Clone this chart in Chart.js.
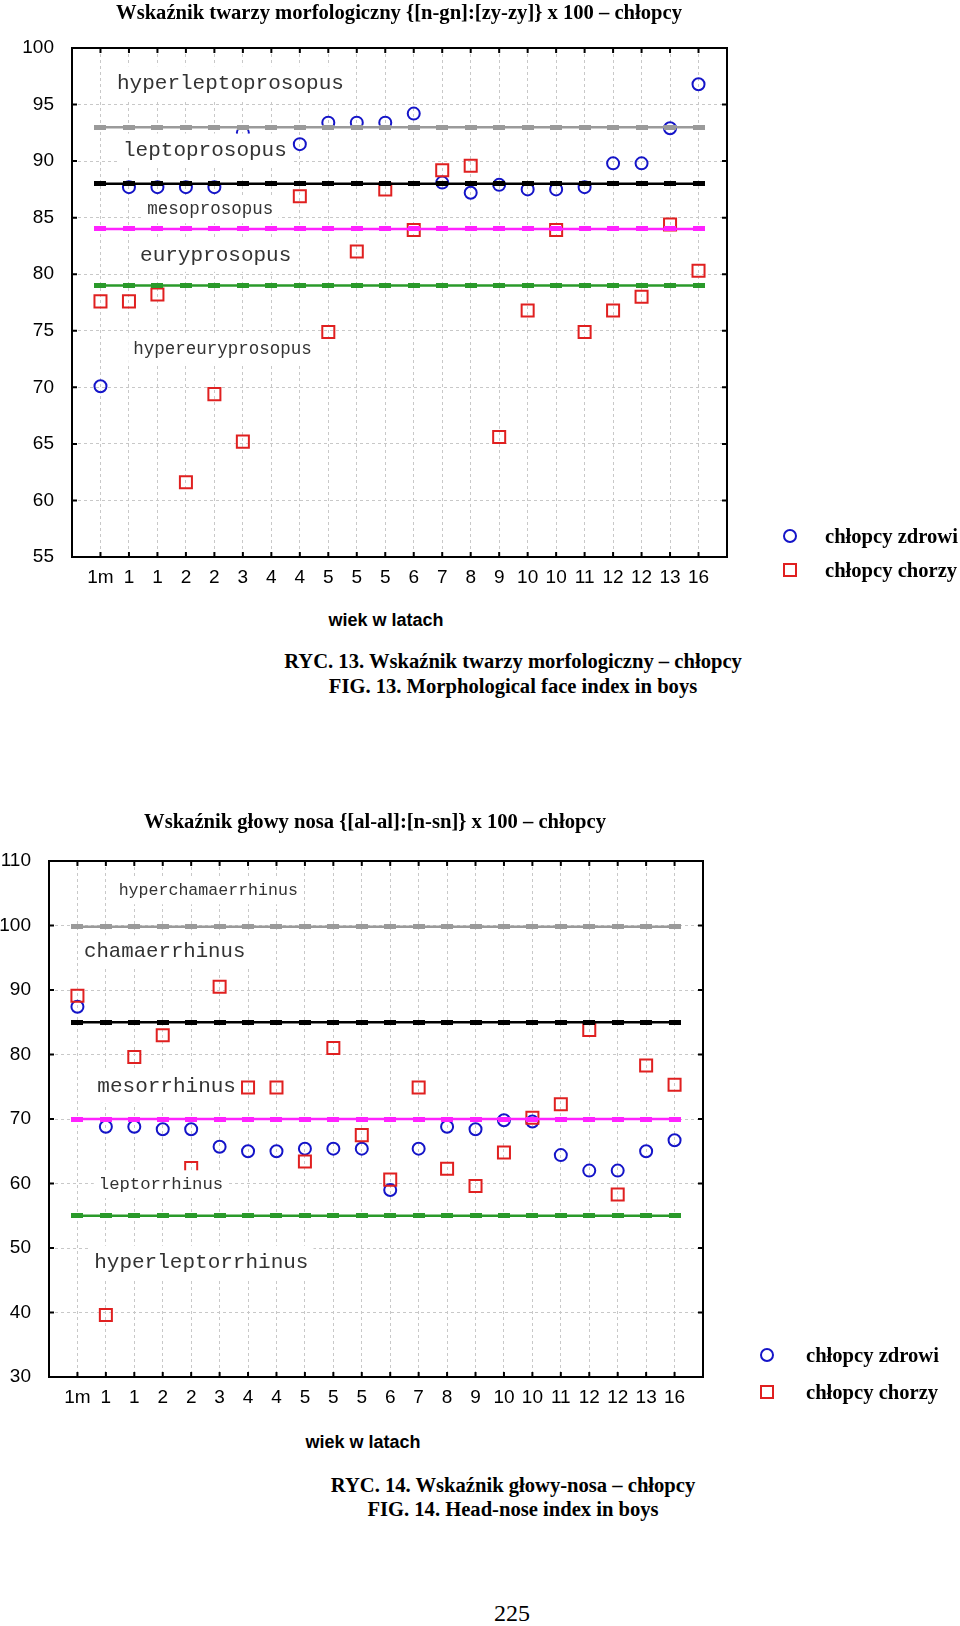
<!DOCTYPE html>
<html lang="pl">
<head>
<meta charset="utf-8">
<title>Wskaźniki – chłopcy</title>
<script src="https://cdn.jsdelivr.net/npm/chart.js@4.4.1/dist/chart.umd.min.js"></script>
<style>
    body { margin: 0; background: #fff; }
    #strona { position: relative; width: 960px; height: 1626px; overflow: hidden; background: #fff; }
    canvas { position: absolute; left: 0; }
    .txt { position: absolute; white-space: nowrap; color: #000; line-height: 1; }
    .srodek { transform: translate(-50%, -50%); }
    .lewo { transform: translateY(-50%); }
    .tytul { font: bold 20.6px 'Liberation Serif', 'Times New Roman', serif; }
    .os { font: bold 18px 'Liberation Sans', Arial, sans-serif; }
    .podpis { font: bold 20.6px 'Liberation Serif', 'Times New Roman', serif; }
    .legenda { font: bold 20.6px 'Liberation Serif', 'Times New Roman', serif; }
    .strona-nr { font: 24px 'Liberation Serif', 'Times New Roman', serif; }
    .kolko { position: absolute; width: 10px; height: 10px; border: 2px solid #1414c8; border-radius: 50%; transform: translate(-50%, -50%); }
    .kwadrat { position: absolute; width: 10px; height: 10px; border: 2px solid #e02020; transform: translate(-50%, -50%); }
</style>
</head>
<body>
<div id="strona">
    <canvas id="wykresTwarz" width="960" height="600" style="top:0px"></canvas>
    <canvas id="wykresNos" width="960" height="620" style="top:800px"></canvas>

    <div class="txt tytul srodek" style="left:399px; top:12px">Wskaźnik twarzy morfologiczny {[n-gn]:[zy-zy]} x 100 – chłopcy</div>
    <div class="txt os srodek" style="left:386px; top:620px">wiek w latach</div>
    <span class="kolko" style="left:790px; top:536px"></span>
    <div class="txt legenda lewo" style="left:825px; top:536px">chłopcy zdrowi</div>
    <span class="kwadrat" style="left:790px; top:570px"></span>
    <div class="txt legenda lewo" style="left:825px; top:570px">chłopcy chorzy</div>
    <div class="txt podpis srodek" style="left:513px; top:661px">RYC. 13. Wskaźnik twarzy morfologiczny – chłopcy</div>
    <div class="txt podpis srodek" style="left:513px; top:686px">FIG. 13. Morphological face index in boys</div>

    <div class="txt tytul srodek" style="left:375px; top:821px">Wskaźnik głowy nosa {[al-al]:[n-sn]} x 100 – chłopcy</div>
    <div class="txt os srodek" style="left:363px; top:1442px">wiek w latach</div>
    <span class="kolko" style="left:767px; top:1355px"></span>
    <div class="txt legenda lewo" style="left:806px; top:1355px">chłopcy zdrowi</div>
    <span class="kwadrat" style="left:767px; top:1392px"></span>
    <div class="txt legenda lewo" style="left:806px; top:1392px">chłopcy chorzy</div>
    <div class="txt podpis srodek" style="left:513px; top:1485px">RYC. 14. Wskaźnik głowy-nosa – chłopcy</div>
    <div class="txt podpis srodek" style="left:513px; top:1509px">FIG. 14. Head-nose index in boys</div>

    <div class="txt strona-nr srodek" style="left:512px; top:1613px">225</div>
</div>

<script>
// Kategorie wieku (oś X)
const kategorie = ['1m', '1', '1', '2', '2', '3', '4', '4', '5', '5', '5', '6', '7', '8', '9', '10', '10', '11', '12', '12', '13', '16'];

// RYC. 13 - wskaźnik twarzy morfologiczny
const twarzZdrowi = [70.1, 87.7, 87.7, 87.7, 87.7, 92.5, null, 91.5, 93.4, 93.4, 93.4, 94.2, 88.1, 87.2, 87.9, 87.5, 87.5, 87.7, 89.8, 89.8, 92.9, 96.8];
const twarzChorzy = [77.6, 77.6, 78.2, 61.6, 69.4, 65.2, null, 86.9, 74.9, 82.0, 87.5, 83.9, 89.2, 89.6, 65.6, 76.8, 83.9, 74.9, 76.8, 78.0, 84.4, 80.3];
const twarzGranice = [93, 88, 84, 79];
const twarzNazwy = ['hyperleptoprosopus', 'leptoprosopus', 'mesoprosopus', 'euryprosopus', 'hypereuryprosopus'];

// RYC. 14 - wskaźnik głowy nosa
const nosZdrowi = [87.4, 68.8, 68.8, 68.4, 68.4, 65.7, 65.0, 65.0, 65.4, 65.4, 65.4, 59.0, 65.4, 68.8, 68.4, 69.8, 69.6, 64.4, 62.0, 62.0, 65.0, 66.7];
const nosChorzy = [89.1, 39.6, 79.6, 83.0, 62.4, 90.5, 74.9, 74.9, 63.4, 81.0, 67.5, 60.6, 74.9, 62.3, 59.6, 64.8, 70.2, 72.3, 83.8, 58.3, 78.3, 75.3];
const nosGranice = [99.8, 85, 70, 55];
const nosNazwy = ['hyperchamaerrhinus', 'chamaerrhinus', 'mesorrhinus', 'leptorrhinus', 'hyperleptorrhinus'];

// Kolory linii granicznych (od góry)
const koloryGranic = ['#9a9a9a', '#000000', '#ff22ff', '#2a9a2a'];

// Marker prostokątny dla linii granicznych
function znacznikLinii(kolor) {
    const c = document.createElement('canvas');
    c.width = 12;
    c.height = 5;
    const g = c.getContext('2d');
    g.fillStyle = kolor;
    g.fillRect(0, 0, 12, 5);
    return c;
}

function doPunktow(wartosci) {
    return wartosci.map((v, i) => ({ x: i + 1, y: v }));
}

// Napisy stref z białym tłem (zasłaniają siatkę i punkty pod spodem)
const etykietyStref = {
    id: 'etykietyStref',
    afterDatasetsDraw(chart, args, opts) {
        const { ctx, scales: { x, y } } = chart;
        ctx.save();
        opts.nazwy.forEach((nazwa, i) => {
            const p = opts.pozycje[i];
            ctx.font = p.size + 'px "Liberation Mono", "Courier New", monospace';
            const w = ctx.measureText(nazwa).width;
            const px = x.getPixelForValue(p.x);
            const py = y.getPixelForValue(p.y);
            ctx.fillStyle = '#fff';
            ctx.fillRect(px - 5, py - p.size * 0.8, w + 10, p.size * 1.6);
            ctx.fillStyle = '#333';
            ctx.textBaseline = 'middle';
            ctx.textAlign = 'left';
            ctx.fillText(nazwa, px, py);
        });
        ctx.restore();
    }
};

// Ramka i krótkie kreski podziałki do środka
const ramka = {
    id: 'ramka',
    afterDraw(chart) {
        const { ctx, chartArea: a, scales: { x, y } } = chart;
        ctx.save();
        ctx.strokeStyle = '#000';
        ctx.lineWidth = 2;
        ctx.beginPath();
        y.ticks.forEach(t => {
            const py = y.getPixelForValue(t.value);
            ctx.moveTo(a.left, py); ctx.lineTo(a.left + 5, py);
            ctx.moveTo(a.right, py); ctx.lineTo(a.right - 5, py);
        });
        x.ticks.forEach(t => {
            const px = x.getPixelForValue(t.value);
            ctx.moveTo(px, a.top); ctx.lineTo(px, a.top + 5);
            ctx.moveTo(px, a.bottom); ctx.lineTo(px, a.bottom - 5);
        });
        ctx.stroke();
        ctx.strokeRect(a.left, a.top, a.right - a.left, a.bottom - a.top);
        ctx.restore();
    }
};

function utworzWykres(id, zdrowi, chorzy, granice, nazwy, pozycje, yMin, yMax, krok, uklad) {
    const zbiory = granice.map((g, i) => ({
        data: kategorie.map((k, j) => ({ x: j + 1, y: g })),
        showLine: true,
        borderColor: koloryGranic[i],
        borderWidth: 2.5,
        pointStyle: znacznikLinii(koloryGranic[i]),
        pointRadius: 6
    }));
    zbiory.push({
        label: 'chłopcy chorzy',
        data: doPunktow(chorzy),
        pointStyle: 'rect',
        pointRadius: 8.5,
        borderColor: '#e02020',
        backgroundColor: 'rgba(0,0,0,0)',
        borderWidth: 2
    });
    zbiory.push({
        label: 'chłopcy zdrowi',
        data: doPunktow(zdrowi),
        pointStyle: 'circle',
        pointRadius: 6,
        borderColor: '#1414c8',
        backgroundColor: 'rgba(0,0,0,0)',
        borderWidth: 2
    });

    return new Chart(document.getElementById(id), {
        type: 'scatter',
        data: { datasets: zbiory },
        options: {
            responsive: false,
            animation: false,
            layout: { padding: uklad.padding },
            plugins: {
                legend: { display: false },
                tooltip: { enabled: false },
                etykietyStref: { nazwy: nazwy, pozycje: pozycje }
            },
            elements: { point: { hoverRadius: 0 } },
            scales: {
                x: {
                    type: 'linear',
                    min: 0,
                    max: kategorie.length + 1,
                    afterBuildTicks: s => { s.ticks = kategorie.map((k, i) => ({ value: i + 1 })); },
                    afterFit: s => { s.height = uklad.wysX; },
                    grid: { color: '#c8c8c8', lineWidth: 1, drawTicks: false },
                    border: { display: false, dash: [3, 3] },
                    ticks: {
                        autoSkip: false,
                        maxRotation: 0,
                        padding: 9,
                        color: '#000',
                        font: { family: "'Liberation Sans', Arial, sans-serif", size: 19 },
                        callback: v => kategorie[v - 1]
                    }
                },
                y: {
                    min: yMin,
                    max: yMax,
                    afterFit: s => { s.width = uklad.szerY; },
                    grid: { color: '#c8c8c8', lineWidth: 1, drawTicks: false },
                    border: { display: false, dash: [3, 3] },
                    ticks: {
                        stepSize: krok,
                        padding: 18,
                        color: '#000',
                        font: { family: "'Liberation Sans', Arial, sans-serif", size: 19 }
                    }
                }
            }
        },
        plugins: [etykietyStref, ramka]
    });
}

utworzWykres('wykresTwarz', twarzZdrowi, twarzChorzy, twarzGranice, twarzNazwy, [
    { x: 1.58, y: 96.9, size: 21 },
    { x: 1.79, y: 90.95, size: 21 },
    { x: 2.64, y: 85.75, size: 17.5 },
    { x: 2.39, y: 81.7, size: 21 },
    { x: 2.15, y: 73.35, size: 17.5 }
], 55, 100, 5, { padding: { top: 48, right: 233, left: 0, bottom: 0 }, szerY: 72, wysX: 43 });

utworzWykres('wykresNos', nosZdrowi, nosChorzy, nosGranice, nosNazwy, [
    { x: 2.45, y: 105.35, size: 16.6 },
    { x: 1.23, y: 95.9, size: 20.7 },
    { x: 1.70, y: 75.0, size: 21 },
    { x: 1.75, y: 59.9, size: 17.3 },
    { x: 1.59, y: 47.75, size: 21 }
], 30, 110, 10, { padding: { top: 61, right: 257, left: 0, bottom: 0 }, szerY: 49, wysX: 43 });
</script>
</body>
</html>
